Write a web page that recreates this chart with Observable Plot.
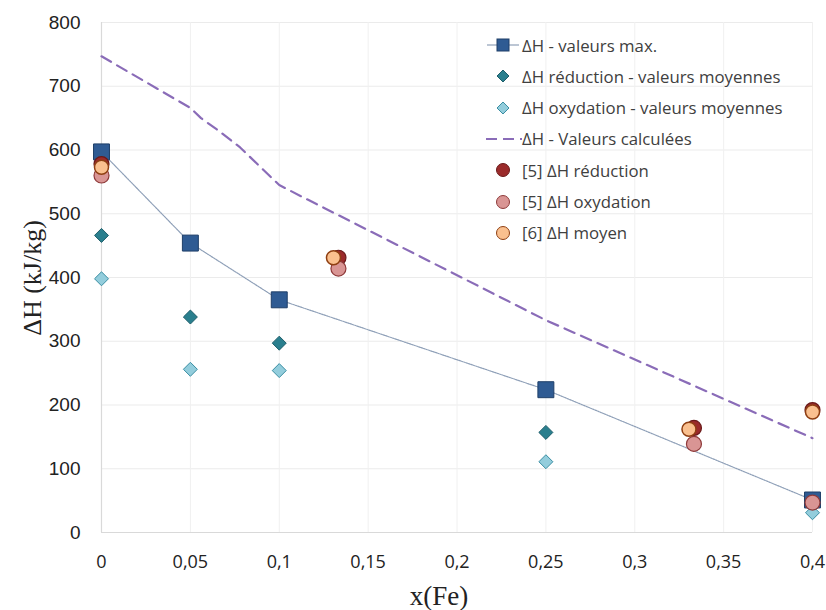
<!DOCTYPE html>
<html>
<head>
<meta charset="utf-8">
<script src="https://cdn.jsdelivr.net/npm/d3@7"></script>
<script src="https://cdn.jsdelivr.net/npm/@observablehq/plot@0.6"></script>
<style>
  html, body { margin: 0; padding: 0; background: #fff; }
  #wrap { position: relative; width: 826px; height: 610px; overflow: hidden; }
  #legend { position: absolute; left: 484px; top: 35px; font-family: "Open Sans", sans-serif; font-size: 16.8px; color: #404040; }
  .row { position: absolute; left: 0; height: 20px; display: flex; align-items: center; white-space: nowrap; }
  .row svg { width: 38px; height: 20px; flex: none; }
  .ttl { position: absolute; font-family: "Liberation Serif", "DejaVu Serif", serif; color: #222; white-space: nowrap; }
</style>
</head>
<body>
<div id="wrap"></div>
<script>
// ---- data ----
const xTicks = [0, 0.05, 0.1, 0.15, 0.2, 0.25, 0.3, 0.35, 0.4];
const yTicks = [0, 100, 200, 300, 400, 500, 600, 700, 800];

const xMax = [0, 0.05, 0.1, 0.25, 0.4];
const yMax = [597, 454, 365, 224, 51];

const xRedMean = [0, 0.05, 0.1, 0.25];
const yRedMean = [466, 338, 297, 157];

const xOxMean = [0, 0.05, 0.1, 0.25, 0.4];
const yOxMean = [398, 256, 254, 111, 31];

const xCalc = [0, 0.05, 0.056, 0.065, 0.078, 0.091, 0.1, 0.114, 0.25, 0.4];
const yCalc = [747, 666, 650, 632, 604, 569, 545, 525, 333, 148];

const x5Red = [0, 0.1333, 0.3333, 0.4];
const y5Red = [578, 431, 164, 192];

const x5Ox = [0, 0.1333, 0.3333, 0.4];
const y5Ox = [560, 414, 139, 47];

const x6 = [0, 0.1305, 0.3305, 0.4];
const y6 = [573, 431, 162, 189];

const legendLabels = [
  "ΔH - valeurs max.",
  "ΔH réduction - valeurs moyennes",
  "ΔH oxydation - valeurs moyennes",
  "ΔH - Valeurs calculées",
  "[5] ΔH réduction",
  "[5] ΔH oxydation",
  "[6] ΔH moyen"
];

// ---- styles ----
const C = {
  sqFill: "#2f5b93", sqStroke: "#1f3f68",
  dFill: "#2a7f8e", dStroke: "#1e5e6a",
  lFill: "#93cddc", lStroke: "#3a8ea3",
  calc: "#8a6cb8", maxLine: "#8fa0b8",
  red: "#9b2b2b", redS: "#6a1a1a",
  pink: "#d99594", pinkS: "#8e3a3a",
  orange: "#fac08f", orangeS: "#8f3f12"
};

const zip = (xs, ys) => xs.map((x, i) => ({x, y: ys[i]}));
const fmtX = d => String(d).replace(".", ",");

const chart = Plot.plot({
  width: 826,
  height: 610,
  marginLeft: 101,
  marginRight: 14,
  marginTop: 22,
  marginBottom: 78,
  style: {background: "#fff"},
  x: {domain: [0, 0.4]},
  y: {domain: [0, 800]},
  marks: [
    Plot.gridY(yTicks, {stroke: "#ebebeb", strokeOpacity: 1}),
    Plot.gridX(xTicks, {stroke: "#f0f0f0", strokeOpacity: 1}),
    Plot.ruleY([0], {stroke: "#d9d9d9", strokeWidth: 1.2}),
    Plot.ruleX([0], {stroke: "#d9d9d9", strokeWidth: 1.2}),
    Plot.axisY(yTicks, {tickSize: 0, tickPadding: 21, fontSize: 19, label: null, fill: "#222", fontFamily: "Liberation Sans, Arial, sans-serif"}),
    Plot.axisX(xTicks, {tickSize: 0, tickPadding: 23, fontSize: 18, label: null, tickFormat: fmtX, fill: "#222", fontFamily: "Open Sans, sans-serif"}),
    Plot.line(zip(xMax, yMax), {x: "x", y: "y", stroke: C.maxLine, strokeWidth: 1.2, strokeDasharray: "1.5,1", curve: "linear"}),
    Plot.dot(zip(xMax, yMax), {x: "x", y: "y", symbol: "square", r: 9, fill: C.sqFill, stroke: C.sqStroke, strokeWidth: 1}),
    Plot.dot(zip(xRedMean, yRedMean), {x: "x", y: "y", symbol: "diamond2", r: 6.3, fill: C.dFill, stroke: C.dStroke, strokeWidth: 1}),
    Plot.dot(zip(xOxMean, yOxMean), {x: "x", y: "y", symbol: "diamond2", r: 6.3, fill: C.lFill, stroke: C.lStroke, strokeWidth: 1}),
    Plot.line(zip(xCalc, yCalc), {x: "x", y: "y", stroke: C.calc, strokeWidth: 2.2, strokeDasharray: "11,7", curve: "linear", strokeLinejoin: "round"}),
    Plot.dot(zip(x5Red, y5Red), {x: "x", y: "y", r: 7.5, fill: C.red, stroke: C.redS, strokeWidth: 1.2}),
    Plot.dot(zip(x5Ox, y5Ox), {x: "x", y: "y", r: 7.5, fill: C.pink, stroke: C.pinkS, strokeWidth: 1.2}),
    Plot.dot(zip(x6, y6), {x: "x", y: "y", r: 7, fill: C.orange, stroke: C.orangeS, strokeWidth: 1.5})
  ]
});

const wrap = document.getElementById("wrap");
wrap.appendChild(chart);

// axis titles
const yt = document.createElement("div");
yt.className = "ttl";
yt.textContent = "ΔH (kJ/kg)";
yt.style.cssText += "font-size:26px;left:33px;top:278px;transform:translate(-50%,-50%) rotate(-90deg);";
wrap.appendChild(yt);

const xt = document.createElement("div");
xt.className = "ttl";
xt.textContent = "x(Fe)";
xt.style.cssText += "font-size:27px;left:439px;top:596px;transform:translate(-50%,-50%);";
wrap.appendChild(xt);

// legend
const swatches = [
  `<line x1="3" y1="10" x2="35" y2="10" stroke="${C.maxLine}" stroke-width="1.2"/><rect x="13" y="4" width="12" height="12" fill="${C.sqFill}" stroke="${C.sqStroke}"/>`,
  `<path d="M19,4 L25,10 L19,16 L13,10 Z" fill="${C.dFill}" stroke="${C.dStroke}"/>`,
  `<path d="M19,4 L25,10 L19,16 L13,10 Z" fill="${C.lFill}" stroke="${C.lStroke}"/>`,
  `<line x1="2" y1="10" x2="38" y2="10" stroke="${C.calc}" stroke-width="2" stroke-dasharray="11,6"/>`,
  `<circle cx="19" cy="10" r="6.5" fill="${C.red}" stroke="${C.redS}"/>`,
  `<circle cx="19" cy="10" r="6.5" fill="${C.pink}" stroke="${C.pinkS}"/>`,
  `<circle cx="19" cy="10" r="6.5" fill="${C.orange}" stroke="${C.orangeS}"/>`
];
const leg = document.createElement("div");
leg.id = "legend";
legendLabels.forEach((lab, i) => {
  const r = document.createElement("div");
  r.className = "row";
  r.style.top = (i * 31.3) + "px";
  r.innerHTML = `<svg viewBox="0 0 38 20">${swatches[i]}</svg><span>${lab}</span>`;
  leg.appendChild(r);
});
wrap.appendChild(leg);
</script>
</body>
</html>
